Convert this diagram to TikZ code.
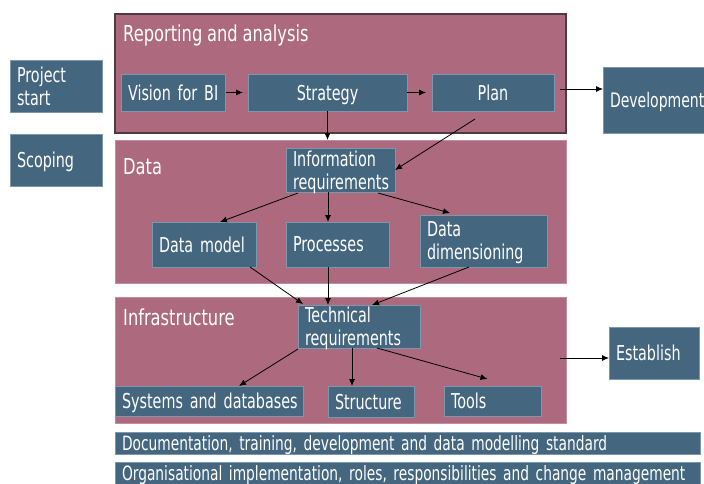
\documentclass[tikz,border=0pt]{standalone}
\usepackage{fontspec}
\setmainfont{DejaVu Sans}[FakeStretch=0.70]
\newfontfamily\headfont{DejaVu Sans}[FakeStretch=0.74]
\usetikzlibrary{arrows.meta,calc}
\definecolor{mauve}{RGB}{173,106,126}
\definecolor{mauveedge}{RGB}{196,140,158}
\definecolor{frameedge}{RGB}{80,58,66}
\definecolor{boxblue}{RGB}{68,102,127}
\definecolor{boxedge}{RGB}{125,152,172}
\newcommand\narrowspace{\spaceskip=0.22em\relax}
\begin{document}
\hyphenpenalty=10000
\begin{tikzpicture}[x=1pt,y=-1pt,
  sect/.style={fill=mauve,draw=mauveedge,line width=0.8pt,inner sep=0pt,outer sep=0pt,anchor=north west},
  head/.style={text=white,font=\headfont\fontsize{22}{25}\selectfont\narrowspace,anchor=base west,inner sep=0pt},
  box/.style={fill=boxblue,draw=boxedge,line width=0.7pt,text=white,
    font=\fontsize{20.5}{23}\selectfont\narrowspace,inner ysep=0pt,inner xsep=7pt,outer sep=0pt,
    anchor=north west,align=left},
  bx/.style={box,text depth=0pt},
  two/.style={box,text depth=23pt},
  bar/.style={bx,font=\fontsize{19.7}{23}\selectfont\narrowspace},
  mid/.style={align=center},
  arr/.style={-{Latex[length=7pt,width=6pt]},line width=0.8pt,black}]
\useasboundingbox (0,0) rectangle (704,483);

% phase sections
\node[sect,draw=frameedge,line width=1.1pt,minimum width=451pt,minimum height=119pt] (report) at (115,14) {};
\node[sect,minimum width=451pt,minimum height=143pt] (data) at (115,140) {};
\node[sect,minimum width=451pt,minimum height=126pt] (infra) at (115,297) {};
\node[head] (reporttitle) at (123,41) {Reporting and analysis};
\node[head] (datatitle) at (123,174) {Data};
\node[head] (infratitle) at (123,325) {Infrastructure};

% left column
\node[two,minimum width=92pt,minimum height=52pt,text width=78pt] (project) at (10,60) {Project\\start};
\node[bx,minimum width=92pt,minimum height=52pt,text width=78pt] (scoping) at (10,134) {Scoping};

% reporting and analysis
\node[bx,minimum width=104pt,minimum height=37pt,text width=90pt] (vision) at (121,74) {\mbox{Vision for BI}};
\node[bx,mid,minimum width=159pt,minimum height=37pt,text width=145pt] (strategy) at (248,74) {Strategy};
\node[bx,mid,minimum width=122pt,minimum height=37pt,text width=108pt] (plan) at (432,74) {Plan};
\node[bx,minimum width=110pt,minimum height=66pt,text width=100pt,font=\fontsize{20}{23}\selectfont] (development) at (603,67) {Development};

% data
\node[two,minimum width=109pt,minimum height=44pt,text width=95pt] (info) at (286,148) {Information\\requirements};
\node[bx,minimum width=104pt,minimum height=45pt,text width=90pt] (datamodel) at (152,222) {\mbox{Data model}};
\node[bx,minimum width=103pt,minimum height=45pt,text width=89pt] (processes) at (286,222) {Processes};
\node[two,minimum width=127pt,minimum height=52pt,text width=113pt] (dim) at (420,215) {Data\\dimensioning};

% infrastructure
\node[two,minimum width=122pt,minimum height=43pt,text width=108pt] (tech) at (298,305) {Technical\\requirements};
\node[bx,minimum width=188pt,minimum height=30pt,text width=174pt] (systems) at (115,386) {\mbox{Systems and databases}};
\node[bx,minimum width=86pt,minimum height=31pt,text width=72pt] (structure) at (328,386) {Structure};
\node[bx,minimum width=97pt,minimum height=30pt,text width=83pt] (tools) at (444,386) {Tools};
\node[bx,minimum width=90pt,minimum height=52pt,text width=76pt] (establish) at (609,327) {Establish};

% cross-cutting bars
\node[bar,minimum width=585pt,minimum height=22pt,text width=571pt] (doc) at (115,432) {\mbox{Documentation, training, development and data modelling standard}};
\node[bar,minimum width=585pt,minimum height=22pt,text width=571pt] (org) at (115,462) {\mbox{Organisational implementation, roles, responsibilities and change management}};

% connector anchors
\coordinate (repout) at ($(report.east)+(-6,15.5)$);
\coordinate (infout) at ($(infra.east)+(-6,-2)$);
\coordinate (ip) at ($(info.south west)+(42,0)$);
\coordinate (pp) at ($(processes.south west)+(42,0)$);
\coordinate (ts) at ($(tech.south west)+(54,0)$);

% connectors
\draw[arr,shorten <=1pt,shorten >=5pt] (vision.east) -- (strategy.west);
\draw[arr,shorten >=6pt] (strategy.east) -- (plan.west);
\draw[arr] (repout) -- (repout -| development.west);
\draw[arr] (strategy.south) -- (strategy.south |- data.north);
\draw[arr] ($(plan.south)+(-18,8)$) -- (info.east);
\draw[arr] ($(info.south west)+(12,1)$) -- ($(datamodel.north)+(16,0)$);
\draw[arr] (ip) -- (ip |- processes.north);
\draw[arr] ($(info.south east)+(-17,1)$) -- ($(dim.north west)+(30,-2)$);
\draw[arr] ($(datamodel.south east)+(-6,0)$) -- ($(tech.north west)+(5,-1)$);
\draw[arr] (pp) -- (pp |- tech.north);
\draw[arr] ($(dim.south west)+(49,0)$) -- ($(tech.north west)+(74,0)$);
\draw[arr] ($(tech.south west)+(0,1)$) -- ($(systems.north)+(30,0)$);
\draw[arr] (ts) -- (ts |- structure.north);
\draw[arr] ($(tech.south west)+(79,0)$) -- ($(tools.north)+(-5,-7)$);
\draw[arr] (infout) -- (infout -| establish.west);
\end{tikzpicture}
\end{document}
